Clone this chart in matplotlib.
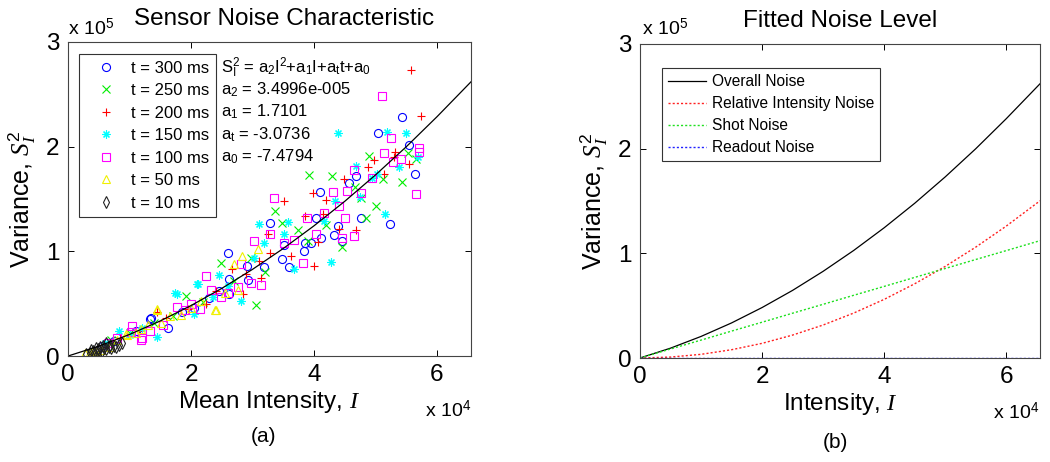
import numpy as np
import matplotlib
matplotlib.use("Agg")
from matplotlib import pyplot as plt

plt.rcParams['font.family'] = ['Liberation Sans', 'DejaVu Sans']
plt.rcParams['mathtext.fontset'] = 'custom'
plt.rcParams['mathtext.rm'] = 'Liberation Sans'
plt.rcParams['mathtext.it'] = 'Liberation Serif:italic'
plt.rcParams['mathtext.bf'] = 'Liberation Sans:bold'

# intensity in units of 1e4, variance in units of 1e5
i300 = [5.43, 5.04, 5.55, 5.65, 5.24, 4.69, 4.57, 4.10, 4.04, 4.76, 4.39, 4.32, 4.45, 4.12, 3.86, 3.95, 3.83, 3.51, 3.60,
        3.48, 3.29, 3.19, 2.60, 2.91, 2.92, 2.61, 2.62, 1.62, 1.35, 1.33, 2.05, 2.30, 1.85, 1.10, 0.75, 0.55, 2.45]
v300 = [2.28, 2.13, 2.02, 1.74, 1.26, 1.72, 1.65, 1.57, 1.32, 1.32, 1.24, 1.16, 1.10, 1.13, 1.08, 1.08, 1.00, 1.06, 0.85,
        0.93, 1.27, 0.85, 0.98, 0.86, 0.73, 0.74, 0.59, 0.27, 0.36, 0.35, 0.46, 0.55, 0.42, 0.24, 0.14, 0.10, 0.62]
i250 = [5.53, 5.66, 5.43, 5.12, 4.90, 5.01, 4.84, 4.76, 3.92, 4.30, 4.45, 4.66, 3.48, 3.36, 3.06, 2.49, 2.98, 1.92, 3.74,
        2.20, 1.70, 1.40, 1.00, 0.70, 2.70, 3.20, 3.90, 4.20]
v250 = [1.94, 1.88, 1.66, 1.69, 1.91, 1.43, 1.32, 1.51, 1.73, 1.72, 1.04, 1.61, 1.27, 1.39, 0.49, 0.89, 0.94, 0.57, 1.20,
        0.52, 0.38, 0.32, 0.22, 0.15, 0.72, 0.80, 1.10, 1.25]
i200 = [5.58, 5.74, 5.31, 5.55, 5.14, 4.88, 4.98, 4.49, 3.98, 3.51, 4.20, 3.86, 4.14, 4.40, 4.68, 4.06, 4.00, 3.63, 3.29,
        3.25, 3.10, 3.14, 2.67, 2.84, 1.45, 2.25, 1.95, 2.40, 1.60, 1.15, 0.85, 0.60, 5.30, 2.90]
v200 = [2.73, 2.29, 1.95, 1.83, 1.74, 1.81, 1.87, 1.69, 1.56, 1.48, 1.49, 1.34, 1.36, 1.21, 1.20, 1.09, 0.86, 0.96, 0.98,
        1.17, 0.91, 0.75, 0.83, 0.59, 0.42, 0.50, 0.45, 0.62, 0.36, 0.24, 0.17, 0.12, 1.90, 0.78]
i150 = [4.39, 5.19, 5.49, 5.39, 5.69, 5.02, 5.16, 4.68, 4.34, 4.28, 4.17, 3.58, 3.51, 3.11, 3.19, 3.67, 3.03, 2.81, 2.46,
        2.11, 1.78, 1.45, 0.83, 2.05, 2.10, 1.74, 1.20, 1.00, 0.60, 2.35, 2.60, 4.75, 4.95]
v150 = [2.13, 2.14, 2.13, 1.81, 1.90, 1.74, 1.36, 1.82, 1.48, 0.90, 1.29, 1.28, 1.17, 1.26, 1.08, 0.83, 0.94, 0.53, 0.77,
        0.69, 0.59, 0.18, 0.24, 0.40, 0.69, 0.60, 0.27, 0.20, 0.12, 0.56, 0.67, 1.52, 1.70]
i100 = [5.10, 5.25, 5.14, 5.41, 5.28, 5.70, 5.71, 5.66, 4.65, 4.77, 4.53, 4.31, 4.95, 4.51, 4.40, 4.17, 3.89, 4.65, 4.46,
        4.04, 3.82, 3.35, 3.29, 3.51, 3.67, 3.03, 2.81, 3.13, 2.97, 2.24, 2.77, 2.49, 2.33, 2.00, 1.78, 1.18, 1.04, 1.34,
        1.20, 1.03, 2.15, 1.90, 1.55, 0.80, 0.65, 2.60]
v100 = [2.48, 2.08, 1.94, 1.88, 1.85, 1.99, 1.95, 1.55, 1.78, 1.56, 1.58, 1.57, 1.70, 1.32, 1.43, 1.37, 1.32, 1.15, 1.13,
        1.17, 0.89, 1.51, 1.17, 1.08, 1.11, 1.10, 0.88, 0.68, 0.70, 0.76, 0.66, 0.56, 0.63, 0.50, 0.47, 0.15, 0.29, 0.24,
        0.17, 0.23, 0.45, 0.44, 0.30, 0.17, 0.12, 0.60]
i50 = [3.09, 2.83, 2.70, 2.76, 2.41, 1.45, 1.83, 1.51, 1.18, 0.96, 0.69, 0.47, 0.36, 2.16, 1.44, 2.39, 0.95, 0.27, 0.40,
       0.54, 1.65, 2.00, 1.30, 0.80, 2.55, 1.10]
v50 = [1.02, 0.96, 0.88, 0.63, 0.44, 0.45, 0.39, 0.32, 0.26, 0.20, 0.09, 0.05, 0.04, 0.53, 0.44, 0.44, 0.21, 0.03, 0.05,
       0.06, 0.38, 0.46, 0.30, 0.15, 0.60, 0.22]
i10 = [0.35, 0.40, 0.45, 0.50, 0.55, 0.58, 0.62, 0.66, 0.70, 0.74, 0.78, 0.83, 0.45, 0.52, 0.62, 0.88, 0.38, 0.48, 0.57,
       0.68, 0.30, 0.42]
v10 = [0.03, 0.05, 0.04, 0.06, 0.05, 0.08, 0.07, 0.09, 0.08, 0.10, 0.09, 0.11, 0.08, 0.09, 0.12, 0.12, 0.06, 0.07, 0.10,
       0.11, 0.02, 0.03]

# fitted curves
fit_i = [0, 0.5, 1, 1.5, 2, 2.5, 3, 3.5, 4, 4.5, 5, 5.5, 6, 6.5535]
overall = [0, 0.094, 0.206, 0.335, 0.482, 0.646, 0.828, 1.027, 1.244, 1.478, 1.730, 1.999, 2.286, 2.62]
rin = [0, 0.009, 0.035, 0.079, 0.140, 0.219, 0.315, 0.429, 0.560, 0.709, 0.875, 1.059, 1.260, 1.502]
shot = [0, 0.086, 0.171, 0.257, 0.342, 0.428, 0.513, 0.599, 0.684, 0.770, 0.855, 0.941, 1.026, 1.121]
readout = [0, 0, 0, 0, 0, 0, 0, 0, 0, 0, 0, 0, 0, 0]

labels = ['t = 300 ms', 't = 250 ms', 't = 200 ms', 't = 150 ms', 't = 100 ms', 't = 50 ms', 't = 10 ms']
xs = [i300, i250, i200, i150, i100, i50, i10]
ys = [v300, v250, v200, v150, v100, v50, v10]
colors = ['#0000ff', '#00ee00', '#ff0000', '#00ffff', '#ff00ff', '#f0f000', '#222222']
markers = ['o', 'x', '+', (8, 2, 0), 's', '^', 'd']

fig = plt.figure(figsize=(10.5, 4.62), dpi=100)
ax1 = fig.add_axes([0.0648, 0.2294, 0.3838, 0.6797])
ax2 = fig.add_axes([0.6095, 0.2251, 0.3810, 0.6797])

for i in range(len(labels)):
    ax1.plot(xs[i], ys[i], linestyle='none', marker=markers[i], mfc='none', mec=colors[i],
             ms=5.8, mew=0.8, label=labels[i])
ax1.plot(fit_i, overall, color='k', lw=0.9)

ax2.plot(fit_i, overall, color='k', lw=0.9, label='Overall Noise')
ax2.plot(fit_i, rin, color='#ff2020', lw=1, ls=(0, (1.5, 1.5)), label='Relative Intensity Noise')
ax2.plot(fit_i, shot, color='#20e020', lw=1, ls=(0, (1.5, 1.5)), label='Shot Noise')
ax2.plot(fit_i, readout, color='#2020ff', lw=1, ls=(0, (1.5, 1.5)), label='Readout Noise')

for ax in [ax1, ax2]:
    ax.set_xlim(0, 6.5535)
    ax.set_ylim(0, 3)
    ax.set_xticks([0, 2, 4, 6])
    ax.set_yticks([0, 1, 2, 3])
    ax.tick_params(direction='in', top=True, right=True, length=4, width=0.7, labelsize=17.5, pad=6)
    for s in ax.spines.values():
        s.set_color('#444444')
        s.set_linewidth(0.8)

ax1.set_title('Sensor Noise Characteristic', fontsize=17.5, x=0.535, pad=12)
ax2.set_title('Fitted Noise Level', fontsize=17.5, pad=12)
ax1.set_xlabel('Mean Intensity, $I$', fontsize=17.5, labelpad=2)
ax2.set_xlabel('Intensity, $I$', fontsize=17.5, labelpad=2)
ax1.set_ylabel('Variance, $S_I^2$', fontsize=18, labelpad=6)
ax2.set_ylabel('Variance, $S_I^2$', fontsize=18, labelpad=6)

leg1 = ax1.legend(loc='upper left', bbox_to_anchor=(0.027, 0.962), borderaxespad=0, fontsize=12,
                  handlelength=2.4, handletextpad=0.3, labelspacing=0.45, fancybox=False,
                  edgecolor='#333333', framealpha=1)
leg1.get_frame().set_linewidth(0.8)
leg2 = ax2.legend(loc='upper left', bbox_to_anchor=(0.055, 0.924), borderaxespad=0, fontsize=11.2,
                  handlelength=2.4, handletextpad=0.4, labelspacing=0.45, fancybox=False,
                  edgecolor='#333333', framealpha=1)
leg2.get_frame().set_linewidth(0.8)

eq = [r'S$_\mathrm{I}^2$ = a$_2$I$^2$+a$_1$I+a$_\mathrm{t}$t+a$_0$',
      r'a$_2$ = 3.4996e-005', r'a$_1$ = 1.7101', r'a$_\mathrm{t}$ = -3.0736', r'a$_0$ = -7.4794']
eq_y = [0.917, 0.847, 0.777, 0.704, 0.634]
for t, y in zip(eq, eq_y):
    ax1.text(0.38, y, t, transform=ax1.transAxes, fontsize=12, va='center', ha='left')

fig.text(68 / 1050, 1 - 35 / 462, r'x 10$^5$', fontsize=14, va='baseline')
fig.text(642 / 1050, 1 - 35 / 462, r'x 10$^5$', fontsize=14, va='baseline')
fig.text(425 / 1050, 1 - 417 / 462, r'x 10$^4$', fontsize=14, va='baseline')
fig.text(993 / 1050, 1 - 419 / 462, r'x 10$^4$', fontsize=14, va='baseline')
fig.text(264 / 1050, 1 - 436 / 462, '(a)', fontsize=15, ha='center', va='center')
fig.text(835 / 1050, 1 - 443 / 462, '(b)', fontsize=15, ha='center', va='center')

fig.savefig('out.png', dpi=100)
